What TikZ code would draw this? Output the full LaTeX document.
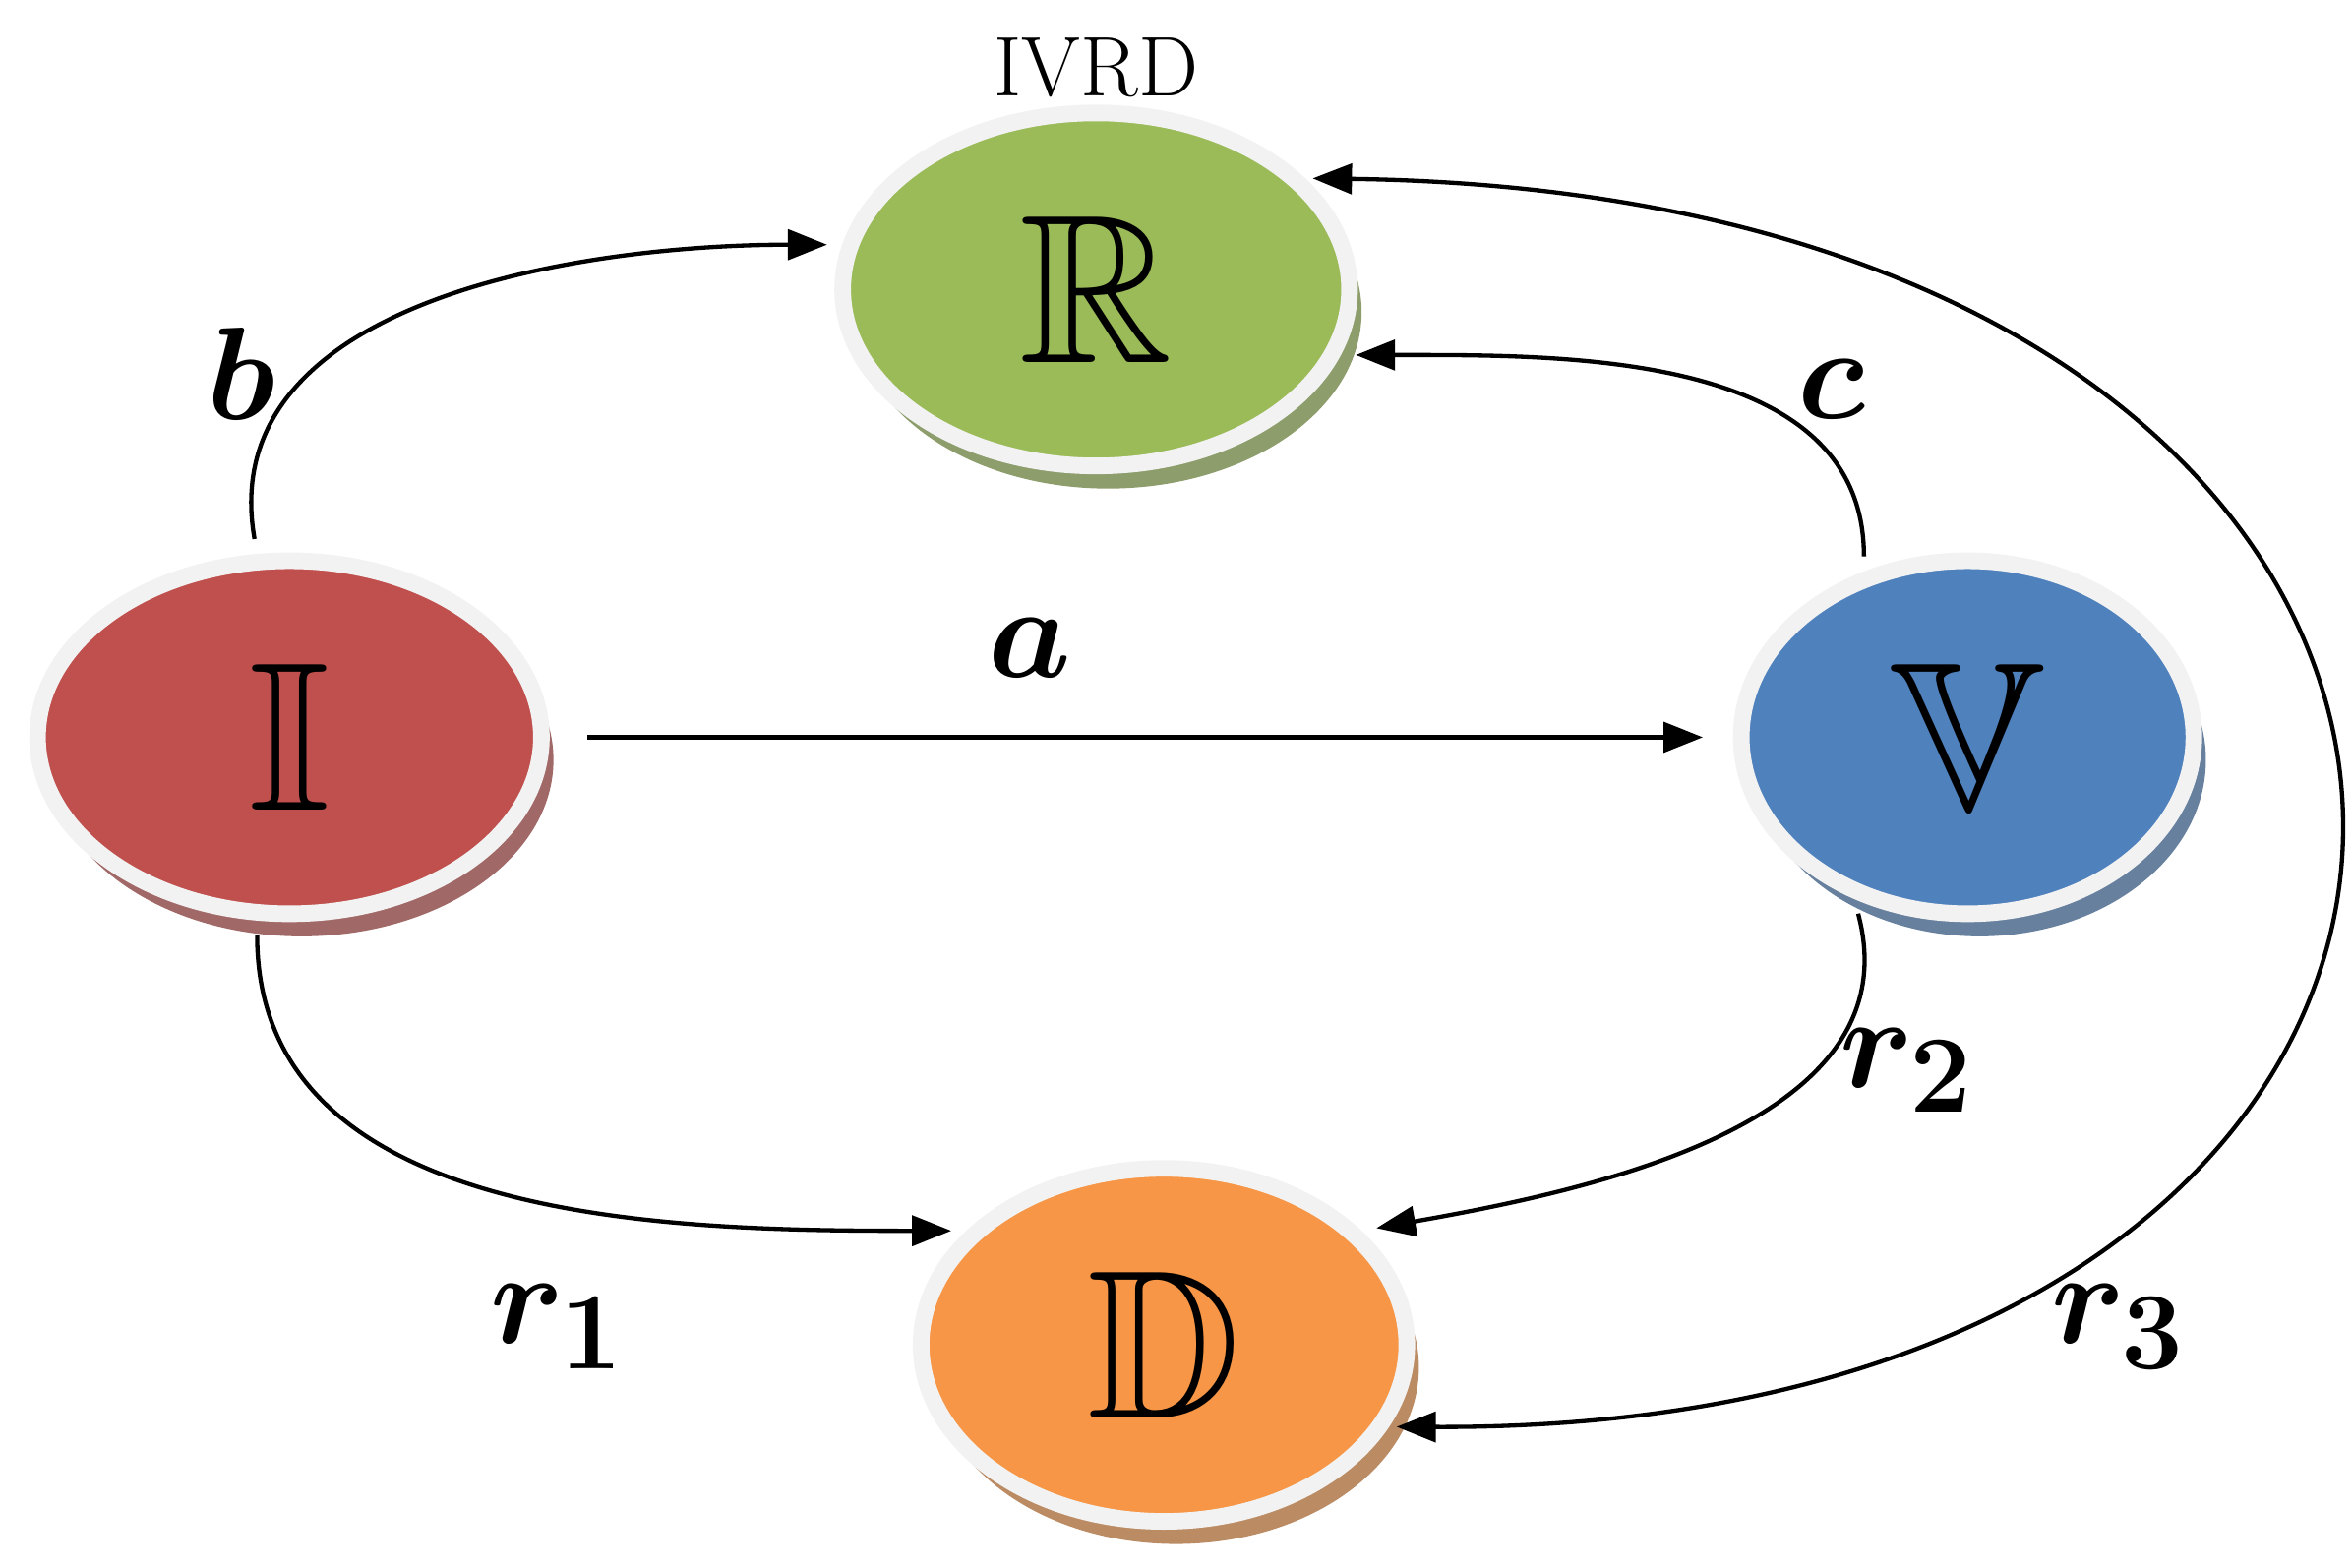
\documentclass[tikz,border=0pt]{standalone}
\usepackage{amsmath}
\usepackage{amssymb}
\usepackage{bm}
\usetikzlibrary{shapes.geometric,shadows,arrows.meta}
\definecolor{ringgray}{HTML}{F2F2F2}
\definecolor{rgreen}{HTML}{9BBB59}
\definecolor{ired}{HTML}{C0504D}
\definecolor{vblue}{HTML}{4F81BD}
\definecolor{dorange}{HTML}{F79646}
\begin{document}
\begin{tikzpicture}[x=0.01cm, y=0.01cm,
    state/.style={ellipse, draw=ringgray, line width=0.11cm, minimum height=2.34cm,
        font=\fontsize{40}{40}\selectfont},
    conn/.style={thick, -{Triangle[length=0.26cm,width=0.2cm]}},
    lbl/.style={font=\fontsize{32}{32}\selectfont}]
    \useasboundingbox (0,0) rectangle (1560,1040);

    \node[state, fill=rgreen, minimum width=3.36cm, drop shadow={shadow xshift=0.08cm, shadow yshift=-0.15cm, fill=rgreen!50!gray, opacity=1}] (R) at (727,848) {$\mathbb{R}$};
    \node[state, fill=ired, minimum width=3.34cm, drop shadow={shadow xshift=0.08cm, shadow yshift=-0.15cm, fill=ired!50!gray, opacity=1}] (I) at (192,551) {$\mathbb{I}$};
    \node[state, fill=vblue, minimum width=3.0cm, drop shadow={shadow xshift=0.08cm, shadow yshift=-0.15cm, fill=vblue!50!gray, opacity=1}] (V) at (1305,551) {$\mathbb{V}$};
    \node[state, fill=dorange, minimum width=3.22cm, drop shadow={shadow xshift=0.08cm, shadow yshift=-0.15cm, fill=dorange!50!gray, opacity=1}] (D) at (772,148) {$\mathbb{D}$};

    \node[font=\fontsize{16}{16}\selectfont] (title) at (727,995) {IVRD};

    \draw[conn, shorten <=0.1cm, shorten >=0.1cm] (I.100) to[out=100, in=180] (R.170);
    \draw[conn, shorten <=0.25cm, shorten >=0.2cm] (I.east) -- (V.west);
    \draw[conn, shorten <=0.1cm, shorten >=0.1cm] (V.122) to[out=90, in=0] (R.-15);
    \draw[conn, shorten <=0.1cm, shorten >=0.1cm] (I.-100) to[out=-90, in=180] (D.150);
    \draw[conn, shorten <=0.1cm, shorten >=0.1cm] (V.-125) to[out=-75, in=10] (D.30);
    \draw[thick, {Triangle[length=0.26cm,width=0.2cm]}-{Triangle[length=0.26cm,width=0.2cm]}, shorten <=0.05cm, shorten >=0.05cm]
        (R.28) .. controls (1764,910) and (1764,90) .. (D.-20);

    \node[lbl] (lb) at (160,792) {$\bm{b}$};
    \node[lbl] (la) at (683,610) {$\bm{a}$};
    \node[lbl] (lc) at (1215,782) {$\bm{c}$};
    \node[lbl] (lr1) at (370,160) {$\bm{r_1}$};
    \node[lbl] (lr2) at (1265,330) {$\bm{r_2}$};
    \node[lbl] (lr3) at (1405,160) {$\bm{r_3}$};
\end{tikzpicture}
\end{document}
